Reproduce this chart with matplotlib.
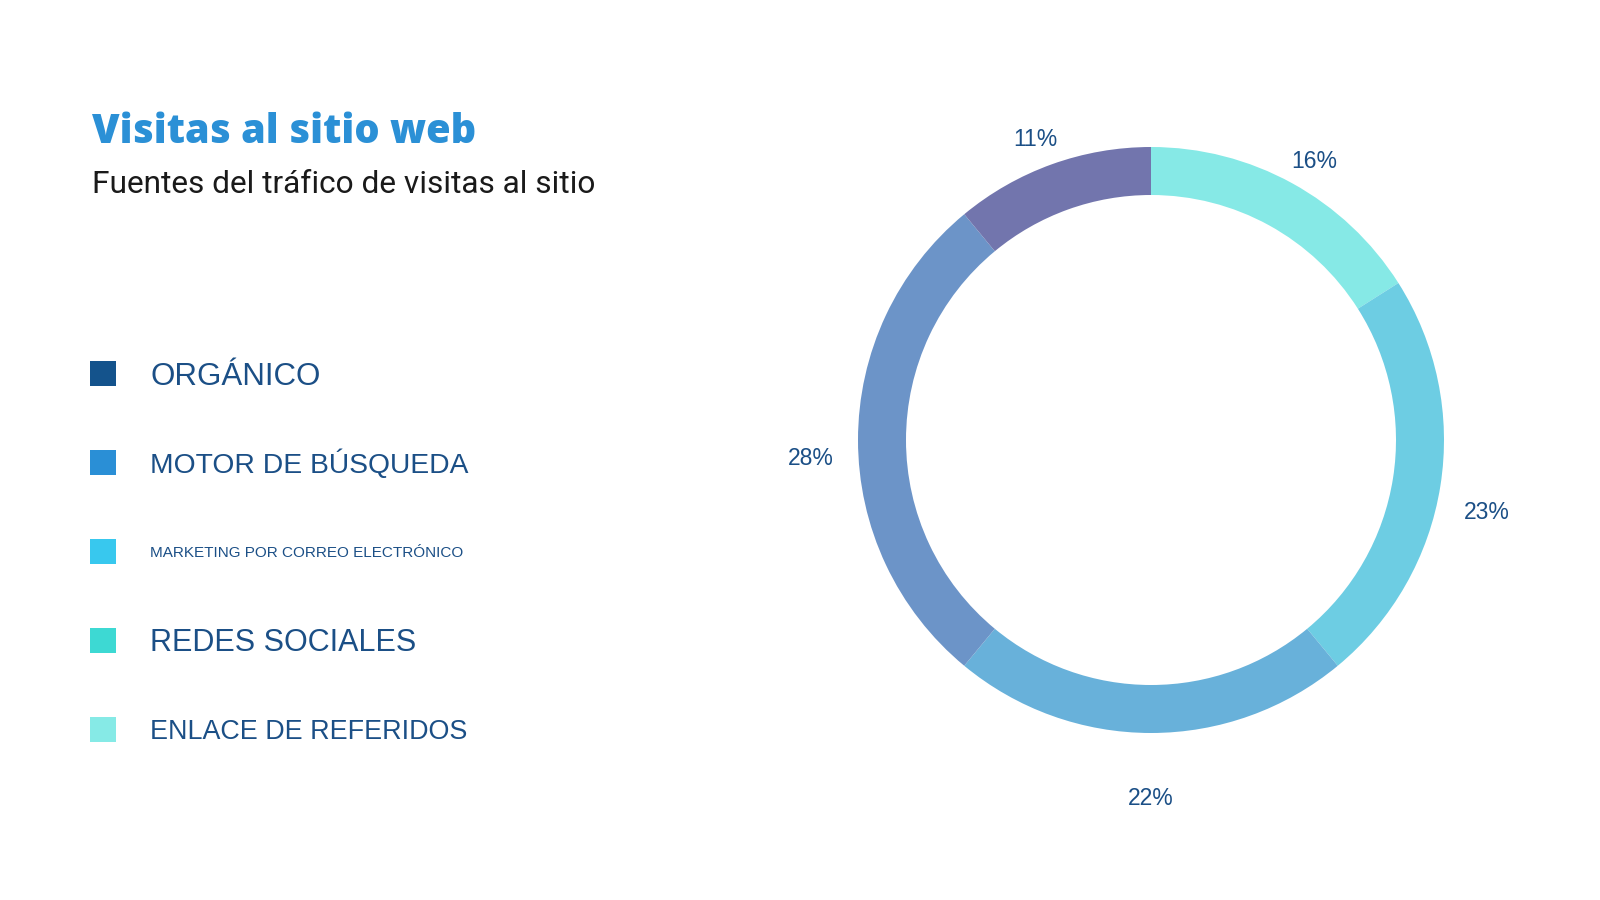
import matplotlib.pyplot as plt
import matplotlib.transforms as mtransforms
from matplotlib.patches import Rectangle

# datos
fuentes = ["ORGÁNICO", "MOTOR DE BÚSQUEDA", "MARKETING POR CORREO ELECTRÓNICO",
           "REDES SOCIALES", "ENLACE DE REFERIDOS"]
colores_leyenda = ["#14538C", "#2A8FD6", "#38C8EE", "#3DD9D3", "#86EAE6"]

# anillo, en sentido horario desde arriba
porcentajes = [16, 23, 22, 28, 11]
colores_anillo = ["#86E9E6", "#6DCDE3", "#68B1DA", "#6C94C8", "#7275AD"]

AZUL_TEXTO = "#1B4F86"
PX = 100 / 72  # pixeles por punto

fig = plt.figure(figsize=(16, 9), dpi=100)
ax = fig.add_axes([0, 0, 1, 1])
ax.set_xlim(0, 1600)
ax.set_ylim(900, 0)
ax.axis("off")

# titulo
ax.text(92, 143, "Visitas al sitio web", fontsize=28.6, fontweight="heavy",
        family="Open Sans", color="#2B90D6", va="baseline")
ax.text(92, 193, "Fuentes del tráfico de visitas al sitio", fontsize=22.8,
        family="Roboto", color="#1a1a1a", va="baseline")

# leyenda
ys = [373.5, 462.5, 551.5, 640.5, 729.5]
tamanos = [22.5, 20.3, 11, 22, 19.4]
for nombre, col, y, fs in zip(fuentes, colores_leyenda, ys, tamanos):
    ax.add_patch(Rectangle((90, y - 12.5), 26, 25, color=col, lw=0))
    ax.text(150, y + fs * PX * 0.716 / 2, nombre, fontsize=fs, color=AZUL_TEXTO,
            family="Liberation Sans", va="baseline")

# anillo
ax2 = fig.add_axes([0, 0, 1, 1])
etiquetas = [f"{p}%" for p in porcentajes]
wedges, texts = ax2.pie(porcentajes, colors=colores_anillo, startangle=90,
                        counterclock=False, center=(1151, 460), radius=293,
                        labels=etiquetas, labeldistance=1.16,
                        wedgeprops=dict(width=48, linewidth=0),
                        textprops=dict(fontsize=16.5, color=AZUL_TEXTO,
                                       family="Liberation Sans"),
                        frame=True)
desplazar = mtransforms.offset_copy(ax2.transData, fig=fig, x=0, y=-19, units="dots")
for t in texts:
    t.set_ha("center")
    t.set_va("center")
    t.set_transform(desplazar)
ax2.set_xlim(0, 1600)
ax2.set_ylim(0, 900)
ax2.set_aspect("auto")
ax2.axis("off")

fig.savefig("out.png", dpi=100)
